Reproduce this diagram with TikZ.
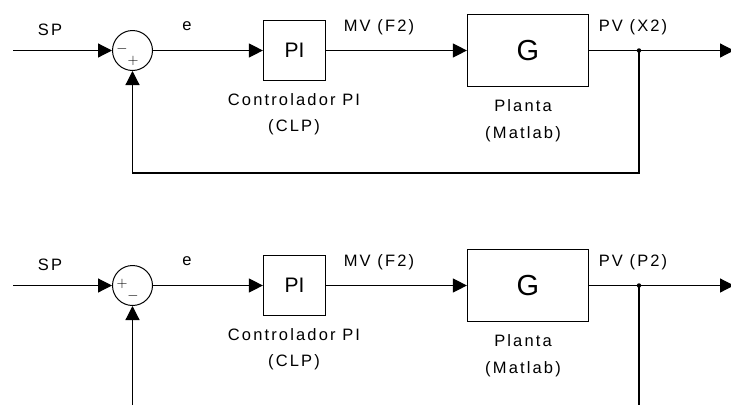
\documentclass[tikz,border=0pt]{standalone}
\usepackage{fontspec}
\setmainfont{Liberation Sans}
\newfontfamily\lblfont[LetterSpace=13]{Liberation Sans}
\usetikzlibrary{arrows.meta}

\begin{document}
\begin{tikzpicture}[x=1pt, y=-1pt, line width=1.2pt,
  sig/.style={-{Triangle[length=14pt,width=14pt]}},
  sumc/.style={draw, circle, minimum size=40pt, inner sep=0pt, line width=1pt},
  pibox/.style={draw, minimum width=62pt, minimum height=60pt, inner sep=0pt,
    font=\fontsize{21}{21}\selectfont},
  gbox/.style={draw, minimum width=121pt, minimum height=72pt, inner sep=0pt,
    font=\fontsize{29}{29}\selectfont},
  jdot/.style={fill, circle, minimum size=4.5pt, inner sep=0pt},
  lbl/.style={font=\lblfont\fontsize{16.5}{26.5}\selectfont, inner sep=0pt,
    align=center, anchor=base},
  sgn/.style={font=\fontsize{14}{14}\selectfont, inner sep=0pt},
]
\useasboundingbox (0,0) rectangle (731,405);

% ---------- upper loop: level (X2) ----------
\coordinate (inA) at (13,50.5);
\node[sumc] (sumA) at (132.5,50.5) {};
\node[sgn] (minusA) at (122,49) {$-$};
\node[sgn] (plusA) at (133,60.5) {$+$};
\node[pibox] (piA) at (294.5,50.5) {PI};
\node[gbox] (gA) at (528,50.5) {G};
\node[jdot] (jA) at (639,50.5) {};
\coordinate (outA) at (734,50.5);
\coordinate (fbA1) at (639,173);
\coordinate (fbA2) at (132.5,173);

\draw[sig] (inA) -- (sumA);
\draw[sig] (sumA) -- (piA);
\draw[sig] (piA) -- (gA);
\draw (gA) -- (jA.center);
\draw[sig] (jA.center) -- (outA);
\draw[sig] (jA.center) -- (fbA1) -- (fbA2) -- (sumA);

\node[lbl] (spA) at (50,35) {SP};
\node[lbl] (eA) at (187,30) {e};
\node[lbl] (mvA) at (379,31) {MV (F2)};
\node[lbl] (pvA) at (633,31) {PV (X2)};
\node[lbl] (ctlA) at (294,131.5) {Controlador PI\\(CLP)};
\node[lbl] (plA) at (523,138) {Planta\\(Matlab)};

% ---------- lower loop: pressure (P2) ----------
\coordinate (inB) at (13,285.5);
\node[sgn] (plusB) at (122,284) {$+$};
\node[sumc] (sumB) at (132.5,285.5) {};
\node[sgn] (minusB) at (133,295.5) {$-$};
\node[pibox] (piB) at (294.5,285.5) {PI};
\node[gbox] (gB) at (528,285.5) {G};
\node[jdot] (jB) at (639,285.5) {};
\coordinate (outB) at (734,285.5);
\coordinate (cutB1) at (639,405);
\coordinate (cutB2) at (132.5,405);

\draw[sig] (inB) -- (sumB);
\draw[sig] (sumB) -- (piB);
\draw[sig] (piB) -- (gB);
\draw (gB) -- (jB.center);
\draw[sig] (jB.center) -- (outB);
\draw (jB.center) -- (cutB1);
\draw[sig] (cutB2) -- (sumB);

\node[lbl] (spB) at (50,270) {SP};
\node[lbl] (eB) at (187,265) {e};
\node[lbl] (mvB) at (379,266) {MV (F2)};
\node[lbl] (pvB) at (633,266) {PV (P2)};
\node[lbl] (ctlB) at (294,366.5) {Controlador PI\\(CLP)};
\node[lbl] (plB) at (523,373) {Planta\\(Matlab)};
\end{tikzpicture}
\end{document}
